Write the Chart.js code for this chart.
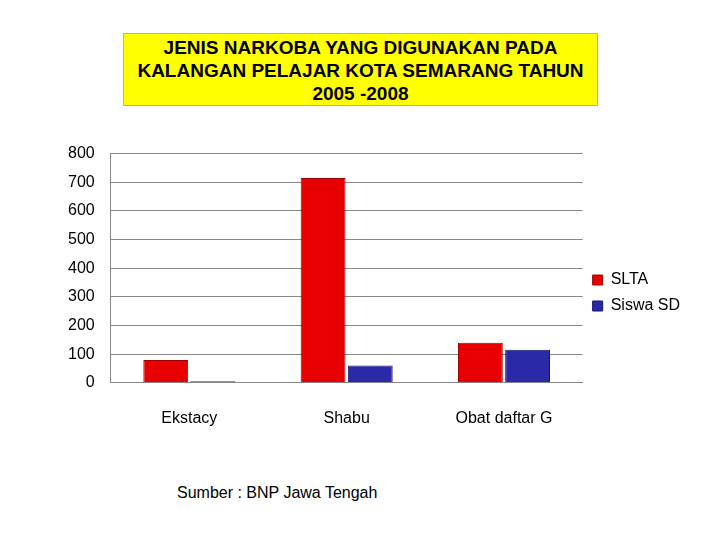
<!DOCTYPE html>
<html>
<head>
<meta charset="utf-8">
<script src="https://cdn.jsdelivr.net/npm/chart.js@4"></script>
<style>
body { margin: 0; width: 720px; height: 540px; background: #fff; font-family: "Liberation Sans", Arial, sans-serif; position: relative; }
#title { position: absolute; left: 123px; top: 33px; width: 475px; height: 73px; background: #ffff00; border: 1px solid #c8c800; box-sizing: border-box;
  text-align: center; font-weight: bold; font-size: 19px; line-height: 23px; padding-top: 2px; }
#source { position: absolute; left: 177px; top: 484px; font-size: 16px; }
#wrap { position: absolute; left: 0; top: 128px; width: 720px; height: 318px; }
</style>
</head>
<body>
<div id="title">JENIS NARKOBA YANG DIGUNAKAN PADA<br>KALANGAN PELAJAR KOTA SEMARANG TAHUN<br>2005 -2008</div>
<div id="wrap"><canvas id="chart"></canvas></div>
<div id="source">Sumber : BNP Jawa Tengah</div>
<script>
"use strict";

const categories = ['Ekstacy', 'Shabu', 'Obat daftar G'];
const slta = [80, 715, 140];
const siswaSD = [5, 60, 115];

const ctx = document.getElementById('chart').getContext('2d');
const chart = new Chart(ctx, {
    type: 'bar',
    data: {
        labels: categories,
        datasets: [{
            label: 'SLTA',
            data: slta,
            backgroundColor: '#e80000',
            borderColor: '#a00000',
            borderWidth: 1
        }, {
            label: 'Siswa SD',
            data: siswaSD,
            backgroundColor: '#2a2aa8',
            borderColor: '#15156a',
            borderWidth: 1
        }]
    },
    options: {
        responsive: true,
        maintainAspectRatio: false,
        animation: false,
        layout: { padding: { left: 52, right: 30, top: 12, bottom: 0 } },
        datasets: { bar: { categoryPercentage: 0.6, barPercentage: 0.95 } },
        plugins: {
            legend: {
                position: 'right',
                labels: { boxWidth: 10, boxHeight: 10, font: { size: 16, family: 'Liberation Sans' }, color: '#000', padding: 10 }
            },
            tooltip: { enabled: false }
        },
        scales: {
            y: {
                min: 0, max: 800,
                ticks: { stepSize: 100, color: '#000', font: { size: 16, family: 'Liberation Sans' }, padding: 16 },
                grid: { color: '#888', drawTicks: false },
                border: { color: '#888' }
            },
            x: {
                ticks: { color: '#000', font: { size: 16, family: 'Liberation Sans' }, padding: 18 },
                grid: { display: false },
                border: { color: '#888' }
            }
        }
    }
});
</script>
</body>
</html>
